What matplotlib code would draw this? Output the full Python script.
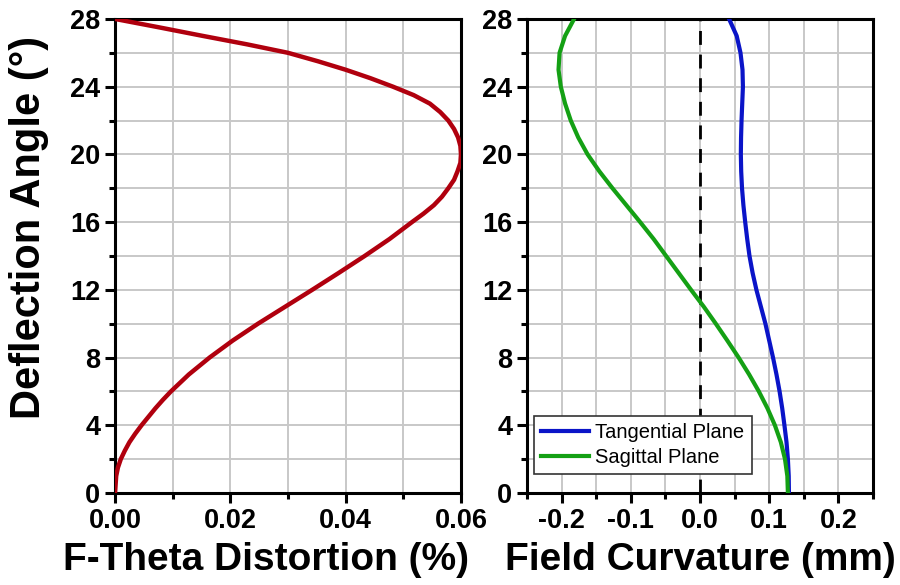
import numpy as np
import matplotlib
matplotlib.use("Agg")
import matplotlib.pyplot as plt
from matplotlib.ticker import MultipleLocator, FormatStrFormatter

plt.rcParams['font.family'] = ['Liberation Sans', 'DejaVu Sans']

# deflection angle (deg) and f-theta distortion (%)
angle_dist = [0, 0.5, 1, 1.5, 2, 2.5, 3, 3.5, 4, 4.5, 5, 5.5, 6, 7, 8, 9, 10,
              11, 12, 13, 14, 15, 16, 16.5, 17, 17.5, 18, 18.5, 19, 19.5, 20,
              20.5, 21, 21.5, 22, 22.5, 23, 23.5, 24, 24.5, 25, 25.5, 26, 26.5,
              27, 27.5, 28]
distortion = [0.0, 0.0001, 0.0002, 0.0005, 0.0010, 0.0017, 0.0025, 0.0035,
              0.0046, 0.0058, 0.0070, 0.0083, 0.0097, 0.0128, 0.0164, 0.0204,
              0.0248, 0.0295, 0.0342, 0.0388, 0.0433, 0.0476, 0.0515, 0.0535,
              0.0553, 0.0567, 0.0578, 0.0588, 0.0594, 0.0599, 0.0600, 0.0599,
              0.0595, 0.0588, 0.0578, 0.0564, 0.0546, 0.0518, 0.0482, 0.0443,
              0.0400, 0.0352, 0.0300, 0.0229, 0.0152, 0.0077, 0.0]

# deflection angle (deg) and field curvature (mm)
angle_fc = [0, 1, 2, 3, 4, 5, 6, 7, 8, 9, 10, 11, 12, 13, 14, 15, 16, 17, 18,
            19, 20, 21, 22, 23, 24, 25, 26, 27, 28]
tangential = [0.1285, 0.1282, 0.1270, 0.1250, 0.1220, 0.1188, 0.1150, 0.1105,
              0.1055, 0.1000, 0.0945, 0.0880, 0.0815, 0.0760, 0.0715, 0.0682,
              0.0653, 0.0627, 0.0607, 0.0595, 0.0590, 0.0593, 0.0600, 0.0610,
              0.0620, 0.0614, 0.0585, 0.0530, 0.0420]
sagittal = [0.1270, 0.1262, 0.1228, 0.1168, 0.1082, 0.0975, 0.0850, 0.0710,
            0.0558, 0.0395, 0.0228, 0.0055, -0.0130, -0.0310, -0.0490, -0.0670,
            -0.0865, -0.1065, -0.1265, -0.1455, -0.1625, -0.1760, -0.1868,
            -0.1950, -0.2012, -0.2045, -0.2030, -0.1950, -0.1820]

fig = plt.figure(figsize=(9, 5.85), dpi=100)
ax1 = fig.add_axes([0.1278, 0.1573, 0.3844, 0.8103])
ax2 = fig.add_axes([0.5856, 0.1573, 0.3844, 0.8103])

grid_col = '#c8c8c8'


def style_axis(ax):
    ax.set_ylim(0, 28)
    ax.yaxis.set_major_locator(MultipleLocator(4))
    ax.yaxis.set_minor_locator(MultipleLocator(2))
    ax.grid(which='both', color=grid_col, linewidth=1.4, zorder=0)
    ax.set_axisbelow(True)
    for sp in ax.spines.values():
        sp.set_linewidth(2.2)
    ax.tick_params(which='major', direction='out', length=7, width=2.2,
                   labelsize=19.5)
    ax.tick_params(which='minor', direction='out', length=4.5, width=2.2)
    for lab in ax.get_xticklabels() + ax.get_yticklabels():
        lab.set_fontweight('bold')


# left: f-theta distortion
ax1.plot(distortion, angle_dist, color='#b0000e', linewidth=3.2, zorder=3,
         solid_joinstyle='round')
ax1.set_xlim(0, 0.06)
ax1.xaxis.set_major_locator(MultipleLocator(0.02))
ax1.xaxis.set_minor_locator(MultipleLocator(0.01))
ax1.xaxis.set_major_formatter(FormatStrFormatter('%.2f'))
style_axis(ax1)
ax1.set_xlabel('F-Theta Distortion (%)', fontsize=28, fontweight='bold')
ax1.xaxis.set_label_coords(0.436, -0.103)
ax1.set_ylabel('Deflection Angle (°)', fontsize=30, fontweight='bold')
ax1.yaxis.set_label_coords(-0.19, 0.56)

# right: field curvature
ax2.axvline(0, color='black', linestyle=(0, (5, 3.5)), linewidth=2.0, zorder=2)
ax2.plot(tangential, angle_fc, color='#0a14c8', linewidth=3.0, zorder=3,
         solid_joinstyle='round', label='Tangential Plane')
ax2.plot(sagittal, angle_fc, color='#14a014', linewidth=3.0, zorder=3,
         solid_joinstyle='round', label='Sagittal Plane')
ax2.set_xlim(-0.25, 0.25)
ax2.xaxis.set_major_locator(MultipleLocator(0.1))
ax2.xaxis.set_minor_locator(MultipleLocator(0.05))
ax2.xaxis.set_major_formatter(FormatStrFormatter('%.1f'))
style_axis(ax2)
ax2.set_xlabel('Field Curvature (mm)', fontsize=28, fontweight='bold')
ax2.xaxis.set_label_coords(0.5, -0.103)

leg = ax2.legend(loc='lower left', bbox_to_anchor=(0.02, 0.04), fontsize=14.5,
                 frameon=True, fancybox=False, handlelength=2.4,
                 borderpad=0.35, labelspacing=0.3, handletextpad=0.3,
                 borderaxespad=0)
leg.get_frame().set_edgecolor('#333333')
leg.get_frame().set_linewidth(1.2)
leg.get_frame().set_alpha(1)

fig.savefig('out.png', dpi=100)
